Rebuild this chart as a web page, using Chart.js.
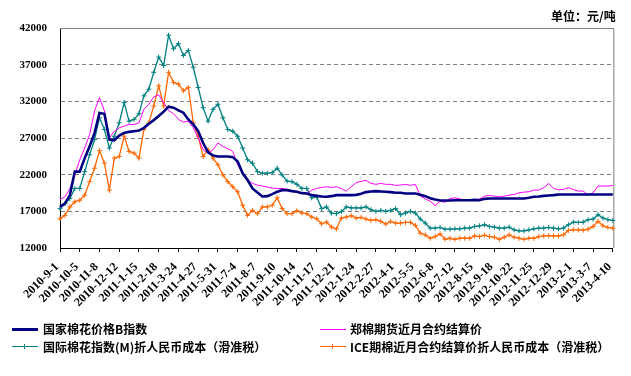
<!DOCTYPE html>
<html><head><meta charset="utf-8">
<script src="https://cdn.jsdelivr.net/npm/chart.js@4.4.0/dist/chart.umd.min.js"></script>
<style>
html,body{margin:0;padding:0;background:#fff;}
#wrap{position:relative;width:631px;height:376px;overflow:hidden;background:#fff;}
#c{position:absolute;left:0;top:0;}
.t{position:absolute;font-family:"Noto Sans CJK SC","Noto Sans",sans-serif;font-weight:bold;font-size:12px;line-height:14px;white-space:nowrap;color:#000;}
.sw{position:absolute;}
</style></head>
<body><div id="wrap">
<canvas id="c" width="631" height="376"></canvas>
<div class="t" style="left:551px;top:9px;">单位：元/吨</div>
<div class="sw" style="left:12px;top:328px;width:26px;height:3px;background:#000080"></div>
<div class="t" style="left:43px;top:322px;">国家棉花价格B指数</div>
<div class="sw" style="left:320px;top:329px;width:26px;height:1px;background:#ff00ff"></div>
<div class="t" style="left:350px;top:322px;">郑棉期货近月合约结算价</div>
<div class="sw" style="left:12px;top:346px;width:26px;height:1px;background:#008080"></div>
<div class="sw" style="left:24px;top:344px;width:1px;height:5px;background:#008080"></div>
<div class="t" style="left:43px;top:340px;">国际棉花指数(M)折人民币成本（滑准税）</div>
<div class="sw" style="left:320px;top:346px;width:26px;height:1px;background:#ff6600"></div>
<div class="sw" style="left:332px;top:344px;width:1px;height:5px;background:#ff6600"></div>
<div class="t" style="left:350px;top:340px;">ICE期棉近月合约结算价折人民币成本（滑准税）</div>
</div>
<script>
const tickLabels = ["2010-9-1","2010-10-5","2010-11-8","2010-12-12","2011-1-15","2011-2-18","2011-3-24","2011-4-27","2011-5-31","2011-7-4","2011-8-7","2011-9-10","2011-10-14","2011-11-17","2011-12-21","2012-1-24","2012-2-27","2012-4-1","2012-5-5","2012-6-8","2012-7-12","2012-8-15","2012-9-18","2012-10-22","2012-11-25","2012-12-29","2013-2-1","2013-3-7","2013-4-10"];
const pointsPerTick = 4;
const yTicks = [12000,17000,22000,27000,32000,37000,42000];

const seriesNames = ["国家棉花价格B指数","郑棉期货近月合约结算价","国际棉花指数(M)折人民币成本（滑准税）","ICE期棉近月合约结算价折人民币成本（滑准税）"];

const indexB = [17600,18060,19210,22420,22420,24250,25860,27700,30400,30300,
26780,26690,27330,27700,27840,27930,28020,28390,28940,29440,
29990,30590,31280,31140,30770,30450,29530,28850,27930,26320,
25040,24620,24480,24480,24480,24390,23800,22190,21270,20120,
19570,19020,19070,19340,19670,19890,19890,19760,19670,19480,
19440,19210,19110,19020,18980,19070,19210,19210,19210,19210,
19250,19390,19620,19710,19760,19710,19670,19620,19530,19530,
19440,19440,19440,19250,19070,18790,18610,18470,18470,18470,
18520,18520,18520,18520,18560,18520,18700,18750,18750,18750,
18750,18750,18750,18750,18750,18840,18980,19020,19110,19160,
19210,19300,19300,19300,19300,19300,19300,19300,19300,19300,
19300,19300,19300];

const zceFutures = [18610,18980,20120,21960,24030,25630,27470,30680,32520,30680,
27010,27930,28390,28620,28850,28850,29070,30910,31600,32610,
32880,31830,30770,30310,29530,29170,29300,28390,27010,25400,
24940,25400,26320,25860,25540,25170,23340,22190,21270,20810,
20580,20450,20310,20170,20120,20120,19990,19760,19570,19440,
19440,19900,20120,20260,20350,20260,20350,20080,19760,20350,
20900,21090,21230,20810,20680,20810,20680,20680,20540,20580,
20680,20540,20680,19070,18700,18380,17780,18380,18240,18750,
18840,18700,18470,18610,18610,18660,19070,19160,19070,18980,
19070,19210,19300,19530,19620,19670,19900,19900,20220,20810,
20120,19940,19990,20220,19990,19760,19760,19210,19530,20450,
20450,20450,20540];

const indexM = [17370,18060,18750,20120,20120,22420,24710,26780,29760,28160,
25630,27240,29080,31830,29300,29530,30310,32750,33660,35960,
38030,36880,41010,39170,39860,38260,38940,36650,33890,31140,
29300,30910,31600,29760,28160,27930,27240,25630,24030,23570,
22420,22190,22190,22280,22880,21960,21130,21040,20680,20120,
20120,18840,18980,17370,17600,16770,16680,16960,17600,17460,
17460,17460,17600,17230,17000,17140,17000,17140,17370,16540,
16770,17000,16770,15950,15400,14710,14710,14800,14570,14570,
14620,14620,14710,14710,14940,15030,15170,14940,14850,14710,
14710,14850,14480,14340,14340,14480,14620,14710,14710,14800,
14710,14620,14710,15170,15530,15490,15530,15860,15950,16540,
16090,15860,15760];

const iceFutures = [15990,16450,17600,18290,18520,19210,21040,22880,25270,23570,
19900,24250,24480,27240,25170,24940,24250,28160,29070,31370,
34120,31370,35960,34580,34350,33440,33900,29070,27240,24480,
25400,24250,23340,21960,21040,20350,19660,17830,16450,17140,
16680,17600,17600,17830,18840,17370,16680,16680,17090,16770,
16680,16220,15990,15300,15530,14850,14600,16090,16220,16410,
16090,16180,15950,15760,15860,15630,15260,15630,15400,15400,
15490,15490,15080,14020,13790,13330,13560,13930,13190,13330,
13190,13330,13330,13330,13650,13560,13740,13560,13470,13190,
13470,13790,13470,13330,13190,13330,13330,13560,13650,13700,
13650,13650,13790,14390,14480,14480,14430,14570,14940,15630,
15030,14800,14710];

const labels = indexB.map((_, i) => (i % pointsPerTick === 0 ? tickLabels[i / pointsPerTick] : ''));

const frame = {
  id: 'frame',
  beforeDatasetsDraw(chart) {
    const {ctx, chartArea: a} = chart;
    ctx.save();
    ctx.strokeStyle = '#808080';
    ctx.lineWidth = 1;
    ctx.beginPath();
    ctx.moveTo(a.left, Math.round(a.top) + 0.5);
    ctx.lineTo(a.right + 1, Math.round(a.top) + 0.5);
    ctx.lineTo(a.right + 1, a.bottom);
    ctx.stroke();
    ctx.restore();
  }
};

const yFont = {family: '"Liberation Serif", serif', weight: 'bold', size: 11};
const xFont = {family: '"Liberation Serif", serif', weight: 'bold', size: 12};

new Chart(document.getElementById('c'), {
  type: 'line',
  data: {
    labels: labels,
    datasets: [
      {label: seriesNames[0], data: indexB, borderColor: '#000080', borderWidth: 2.6, pointRadius: 0, tension: 0},
      {label: seriesNames[1], data: zceFutures, borderColor: '#ff00ff', borderWidth: 1, pointRadius: 0, tension: 0},
      {label: seriesNames[2], data: indexM, borderColor: '#008080', borderWidth: 1.3, pointStyle: 'cross', pointRadius: 2.5, pointBorderWidth: 1, pointBorderColor: '#008080', tension: 0},
      {label: seriesNames[3], data: iceFutures, borderColor: '#ff6600', borderWidth: 1.3, pointStyle: 'cross', pointRadius: 2.5, pointBorderWidth: 1, pointBorderColor: '#ff6600', tension: 0}
    ]
  },
  options: {
    responsive: false,
    animation: false,
    devicePixelRatio: 1,
    layout: {padding: {left: 0, right: 6, top: 28, bottom: 0}},
    plugins: {legend: {display: false}, tooltip: {enabled: false}},
    scales: {
      x: {
        type: 'category',
        offset: false,
        afterFit: s => { s.height = 128; },
        afterBuildTicks: s => { s.ticks = s.ticks.filter(t => t.value % pointsPerTick === 0); },
        grid: {drawOnChartArea: false, drawTicks: true, tickLength: 4, tickColor: '#000', color: '#000'},
        border: {color: '#000', width: 1},
        ticks: {autoSkip: false, maxRotation: 45, minRotation: 45, color: '#000', font: xFont, padding: 8, labelOffset: -3,
          callback: function(v) { return this.getLabelForValue(v); }}
      },
      y: {
        min: 12000, max: 42000,
        afterFit: s => { s.width = 60; },
        afterBuildTicks: s => { s.ticks = yTicks.map(v => ({value: v})); },
        grid: {drawTicks: false, color: c => (c.tick && (c.tick.value === 12000 || c.tick.value === 42000)) ? 'rgba(0,0,0,0)' : '#808080'},
        border: {color: '#000', width: 1, dash: [4, 3]},
        ticks: {color: '#000', font: yFont, padding: 13, callback: v => String(v)}
      }
    }
  },
  plugins: [frame]
});
</script>
</body></html>
